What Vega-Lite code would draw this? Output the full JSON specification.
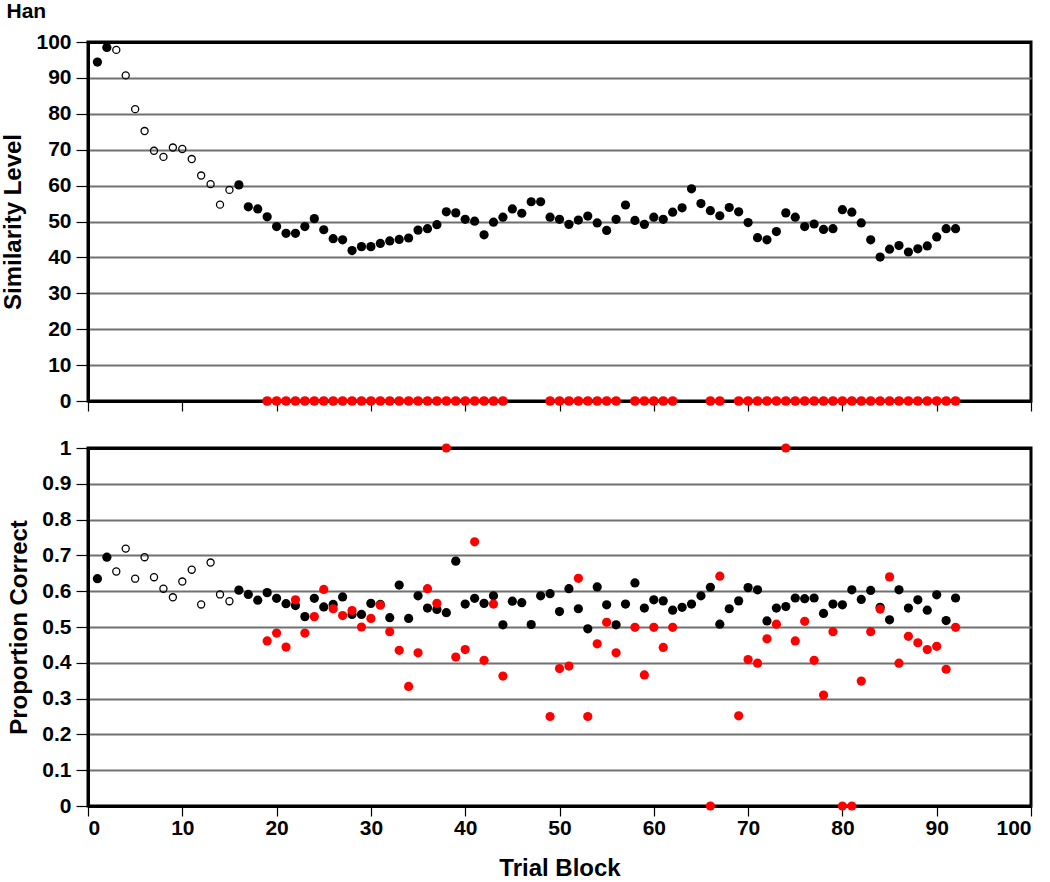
{
  "$schema": "https://vega.github.io/schema/vega-lite/v6.json",
  "background": "white",
  "padding": {"left": 0, "top": 0, "right": 3, "bottom": 0},
  "title": {"text": "Han", "anchor": "start", "frame": "bounds", "fontSize": 21, "fontWeight": "bold", "font": "Liberation Sans", "color": "black", "offset": 8, "dx": 6},
  "config": {
    "font": "Liberation Sans",
    "view": {"stroke": "black", "strokeWidth": 3},
    "axis": {
      "domainColor": "black", "domainWidth": 3,
      "tickColor": "black", "tickWidth": 1.2, "tickSize": 10,
      "labelFontSize": 21, "labelFontWeight": "bold", "labelColor": "black", "labelPadding": 3, "labelOverlap": false,
      "titleFontSize": 24, "titleFontWeight": "bold", "titleColor": "black"
    }
  },
  "data": {"values": [
    {"t":1,"ph":"f","sim":94.4,"pc":0.635},
    {"t":2,"ph":"f","sim":98.5,"pc":0.695},
    {"t":3,"ph":"o","sim":97.8,"pc":0.655},
    {"t":4,"ph":"o","sim":90.7,"pc":0.719},
    {"t":5,"ph":"o","sim":81.3,"pc":0.635},
    {"t":6,"ph":"o","sim":75.2,"pc":0.695},
    {"t":7,"ph":"o","sim":69.7,"pc":0.639},
    {"t":8,"ph":"o","sim":68.0,"pc":0.607},
    {"t":9,"ph":"o","sim":70.6,"pc":0.583},
    {"t":10,"ph":"o","sim":70.2,"pc":0.627},
    {"t":11,"ph":"o","sim":67.4,"pc":0.660},
    {"t":12,"ph":"o","sim":62.8,"pc":0.563},
    {"t":13,"ph":"o","sim":60.4,"pc":0.680},
    {"t":14,"ph":"o","sim":54.7,"pc":0.591},
    {"t":15,"ph":"o","sim":58.8,"pc":0.572},
    {"t":16,"ph":"f","sim":60.2,"pc":0.603},
    {"t":17,"ph":"f","sim":54.1,"pc":0.591},
    {"t":18,"ph":"f","sim":53.5,"pc":0.575},
    {"t":19,"ph":"f","sim":51.3,"pc":0.596,"rs":0,"rpc":0.461},
    {"t":20,"ph":"f","sim":48.6,"pc":0.580,"rs":0,"rpc":0.483},
    {"t":21,"ph":"f","sim":46.7,"pc":0.565,"rs":0,"rpc":0.444},
    {"t":22,"ph":"f","sim":46.7,"pc":0.560,"rs":0,"rpc":0.576},
    {"t":23,"ph":"f","sim":48.6,"pc":0.529,"rs":0,"rpc":0.483},
    {"t":24,"ph":"f","sim":50.8,"pc":0.580,"rs":0,"rpc":0.529},
    {"t":25,"ph":"f","sim":47.7,"pc":0.556,"rs":0,"rpc":0.605},
    {"t":26,"ph":"f","sim":45.2,"pc":0.563,"rs":0,"rpc":0.551},
    {"t":27,"ph":"f","sim":44.9,"pc":0.584,"rs":0,"rpc":0.532},
    {"t":28,"ph":"f","sim":41.9,"pc":0.535,"rs":0,"rpc":0.546},
    {"t":29,"ph":"f","sim":43.0,"pc":0.535,"rs":0,"rpc":0.500},
    {"t":30,"ph":"f","sim":43.0,"pc":0.566,"rs":0,"rpc":0.524},
    {"t":31,"ph":"f","sim":43.9,"pc":0.563,"rs":0,"rpc":0.561},
    {"t":32,"ph":"f","sim":44.6,"pc":0.526,"rs":0,"rpc":0.487},
    {"t":33,"ph":"f","sim":45.0,"pc":0.617,"rs":0,"rpc":0.435},
    {"t":34,"ph":"f","sim":45.4,"pc":0.524,"rs":0,"rpc":0.334},
    {"t":35,"ph":"f","sim":47.6,"pc":0.587,"rs":0,"rpc":0.428},
    {"t":36,"ph":"f","sim":48.0,"pc":0.553,"rs":0,"rpc":0.607},
    {"t":37,"ph":"f","sim":49.1,"pc":0.549,"rs":0,"rpc":0.566},
    {"t":38,"ph":"f","sim":52.7,"pc":0.540,"rs":0,"rpc":1.0},
    {"t":39,"ph":"f","sim":52.4,"pc":0.684,"rs":0,"rpc":0.416},
    {"t":40,"ph":"f","sim":50.6,"pc":0.564,"rs":0,"rpc":0.437},
    {"t":41,"ph":"f","sim":50.1,"pc":0.580,"rs":0,"rpc":0.738},
    {"t":42,"ph":"f","sim":46.3,"pc":0.566,"rs":0,"rpc":0.407},
    {"t":43,"ph":"f","sim":49.8,"pc":0.587,"rs":0,"rpc":0.564},
    {"t":44,"ph":"f","sim":51.2,"pc":0.506,"rs":0,"rpc":0.363},
    {"t":45,"ph":"f","sim":53.5,"pc":0.572},
    {"t":46,"ph":"f","sim":52.3,"pc":0.568},
    {"t":47,"ph":"f","sim":55.5,"pc":0.507},
    {"t":48,"ph":"f","sim":55.5,"pc":0.587},
    {"t":49,"ph":"f","sim":51.2,"pc":0.593,"rs":0,"rpc":0.25},
    {"t":50,"ph":"f","sim":50.6,"pc":0.543,"rs":0,"rpc":0.384},
    {"t":51,"ph":"f","sim":49.2,"pc":0.607,"rs":0,"rpc":0.391},
    {"t":52,"ph":"f","sim":50.4,"pc":0.551,"rs":0,"rpc":0.636},
    {"t":53,"ph":"f","sim":51.5,"pc":0.495,"rs":0,"rpc":0.25},
    {"t":54,"ph":"f","sim":49.6,"pc":0.612,"rs":0,"rpc":0.453},
    {"t":55,"ph":"f","sim":47.5,"pc":0.562,"rs":0,"rpc":0.513},
    {"t":56,"ph":"f","sim":50.6,"pc":0.506,"rs":0,"rpc":0.428},
    {"t":57,"ph":"f","sim":54.6,"pc":0.564},
    {"t":58,"ph":"f","sim":50.3,"pc":0.623,"rs":0,"rpc":0.499},
    {"t":59,"ph":"f","sim":49.2,"pc":0.553,"rs":0,"rpc":0.366},
    {"t":60,"ph":"f","sim":51.2,"pc":0.576,"rs":0,"rpc":0.499},
    {"t":61,"ph":"f","sim":50.6,"pc":0.573,"rs":0,"rpc":0.443},
    {"t":62,"ph":"f","sim":52.6,"pc":0.547,"rs":0,"rpc":0.499},
    {"t":63,"ph":"f","sim":53.8,"pc":0.555},
    {"t":64,"ph":"f","sim":59.1,"pc":0.564},
    {"t":65,"ph":"f","sim":55.0,"pc":0.587},
    {"t":66,"ph":"f","sim":53.0,"pc":0.611,"rs":0,"rpc":0.0},
    {"t":67,"ph":"f","sim":51.6,"pc":0.508,"rs":0,"rpc":0.642},
    {"t":68,"ph":"f","sim":53.9,"pc":0.551},
    {"t":69,"ph":"f","sim":52.7,"pc":0.573,"rs":0,"rpc":0.252},
    {"t":70,"ph":"f","sim":49.7,"pc":0.610,"rs":0,"rpc":0.409},
    {"t":71,"ph":"f","sim":45.5,"pc":0.604,"rs":0,"rpc":0.399},
    {"t":72,"ph":"f","sim":44.9,"pc":0.517,"rs":0,"rpc":0.467},
    {"t":73,"ph":"f","sim":47.2,"pc":0.553,"rs":0,"rpc":0.508},
    {"t":74,"ph":"f","sim":52.4,"pc":0.557,"rs":0,"rpc":1.0},
    {"t":75,"ph":"f","sim":51.2,"pc":0.581,"rs":0,"rpc":0.461},
    {"t":76,"ph":"f","sim":48.6,"pc":0.579,"rs":0,"rpc":0.516},
    {"t":77,"ph":"f","sim":49.3,"pc":0.581,"rs":0,"rpc":0.407},
    {"t":78,"ph":"f","sim":47.8,"pc":0.538,"rs":0,"rpc":0.310},
    {"t":79,"ph":"f","sim":48.0,"pc":0.564,"rs":0,"rpc":0.487},
    {"t":80,"ph":"f","sim":53.3,"pc":0.562,"rs":0,"rpc":0.0},
    {"t":81,"ph":"f","sim":52.6,"pc":0.604,"rs":0,"rpc":0.0},
    {"t":82,"ph":"f","sim":49.6,"pc":0.577,"rs":0,"rpc":0.349},
    {"t":83,"ph":"f","sim":44.9,"pc":0.602,"rs":0,"rpc":0.487},
    {"t":84,"ph":"f","sim":40.1,"pc":0.555,"rs":0,"rpc":0.550},
    {"t":85,"ph":"f","sim":42.3,"pc":0.520,"rs":0,"rpc":0.640},
    {"t":86,"ph":"f","sim":43.3,"pc":0.604,"rs":0,"rpc":0.399},
    {"t":87,"ph":"f","sim":41.5,"pc":0.553,"rs":0,"rpc":0.474},
    {"t":88,"ph":"f","sim":42.4,"pc":0.576,"rs":0,"rpc":0.456},
    {"t":89,"ph":"f","sim":43.2,"pc":0.547,"rs":0,"rpc":0.437},
    {"t":90,"ph":"f","sim":45.7,"pc":0.590,"rs":0,"rpc":0.446},
    {"t":91,"ph":"f","sim":48.0,"pc":0.518,"rs":0,"rpc":0.382},
    {"t":92,"ph":"f","sim":48.0,"pc":0.581,"rs":0,"rpc":0.499}
  ]},
  "spacing": 47,
  "bounds": "flush",
  "vconcat": [
    {
      "width": 943,
      "height": 359,
      "encoding": {
        "x": {"field": "t", "type": "quantitative", "scale": {"domain": [0, 100]},
          "axis": {"values": [0,10,20,30,40,50,60,70,80,90,100], "labels": false, "title": null, "grid": false}},
        "y": {"field": "sim", "type": "quantitative", "scale": {"domain": [0, 100]},
          "axis": {"values": [0,10,20,30,40,50,60,70,80,90,100], "tickCount": 11, "tickSize": 12, "labelPadding": 5, "title": "Similarity Level", "titlePadding": 10,
            "grid": true,
            "gridColor": {"condition": {"test": "datum.value === 100", "value": "black"}, "value": "#707070"},
            "gridWidth": {"condition": {"test": "datum.value === 100", "value": 3}, "value": 2}}}
      },
      "layer": [
        {
          "transform": [{"filter": "datum.ph === 'o'"}],
          "mark": {"type": "point", "shape": "circle", "filled": false, "stroke": "black", "strokeWidth": 1.3, "size": 50, "opacity": 1}
        },
        {
          "transform": [{"filter": "datum.ph === 'f'"}],
          "mark": {"type": "circle", "color": "black", "size": 85, "opacity": 1}
        },
        {
          "transform": [{"filter": "isValid(datum.rs)"}],
          "mark": {"type": "circle", "color": "#ff0000", "size": 95, "opacity": 1},
          "encoding": {"y": {"field": "rs", "type": "quantitative"}}
        }
      ]
    },
    {
      "width": 943,
      "height": 358,
      "encoding": {
        "x": {"field": "t", "type": "quantitative", "scale": {"domain": [0, 100]},
          "axis": {"values": [0,10,20,30,40,50,60,70,80,90,100], "title": "Trial Block", "titlePadding": 18, "labelPadding": 1, "grid": false}},
        "y": {"field": "pc", "type": "quantitative", "scale": {"domain": [0, 1]},
          "axis": {"values": [0,0.1,0.2,0.3,0.4,0.5,0.6,0.7,0.8,0.9,1], "tickCount": 11, "tickSize": 12, "labelPadding": 5, "format": "~g", "title": "Proportion Correct", "titlePadding": 10,
            "grid": true,
            "gridColor": {"condition": {"test": "datum.value === 1", "value": "black"}, "value": "#707070"},
            "gridWidth": {"condition": {"test": "datum.value === 1", "value": 3}, "value": 2}}}
      },
      "layer": [
        {
          "transform": [{"filter": "datum.ph === 'o'"}],
          "mark": {"type": "point", "shape": "circle", "filled": false, "stroke": "black", "strokeWidth": 1.3, "size": 50, "opacity": 1}
        },
        {
          "transform": [{"filter": "datum.ph === 'f'"}],
          "mark": {"type": "circle", "color": "black", "size": 85, "opacity": 1}
        },
        {
          "transform": [{"filter": "isValid(datum.rpc)"}],
          "mark": {"type": "circle", "color": "#ff0000", "size": 85, "opacity": 1},
          "encoding": {"y": {"field": "rpc", "type": "quantitative"}}
        }
      ]
    }
  ]
}
